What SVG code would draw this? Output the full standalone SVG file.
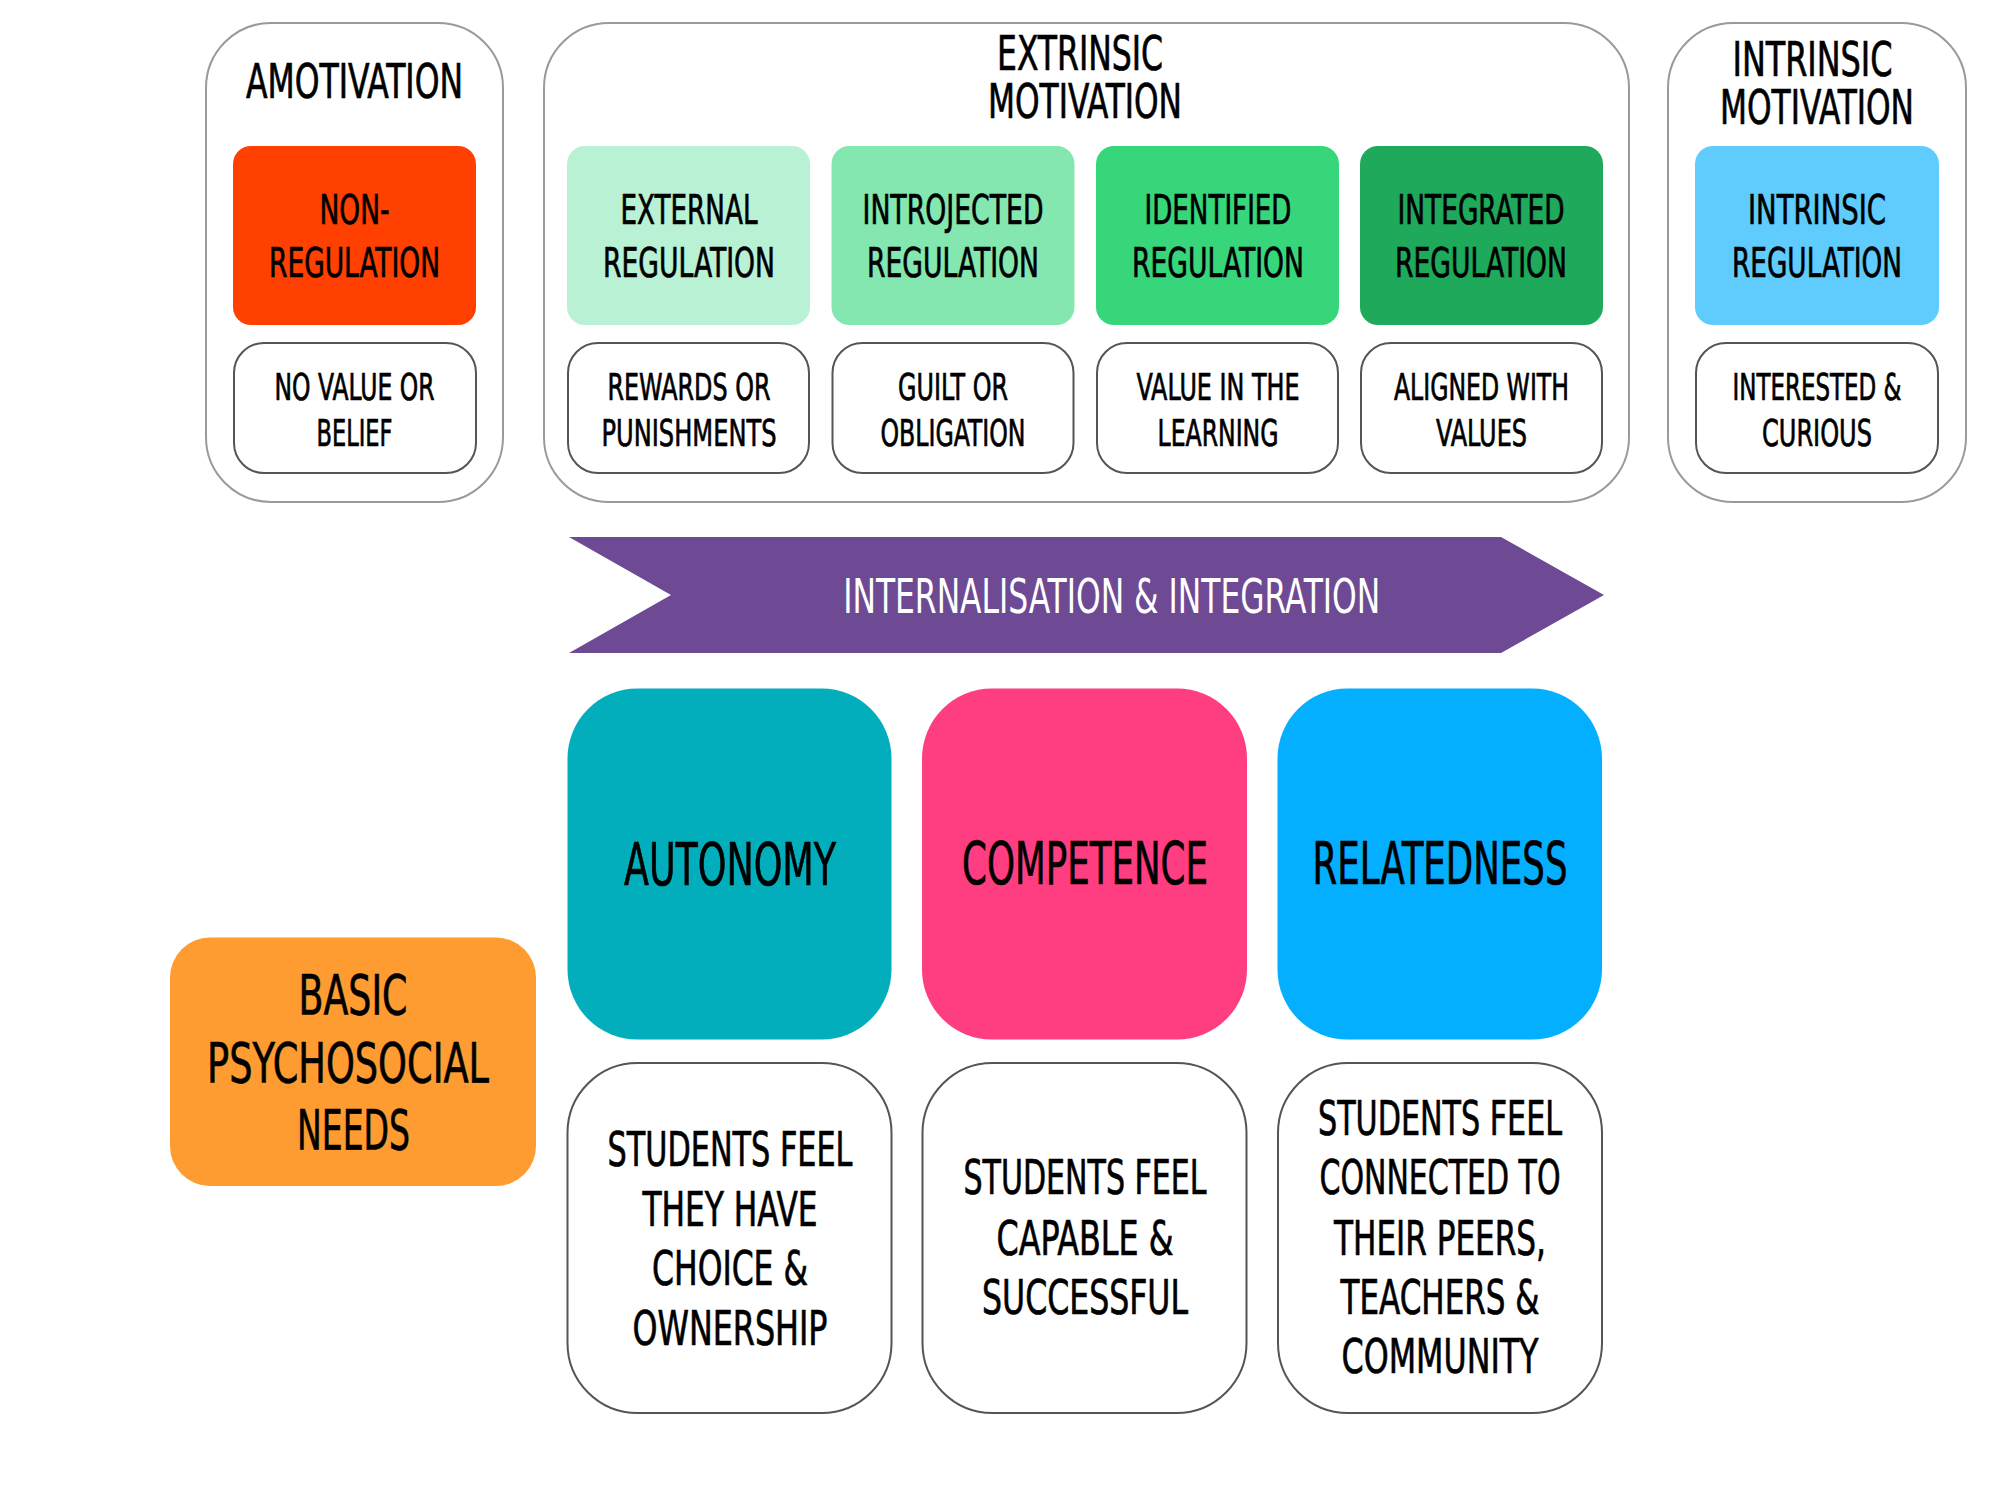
<svg xmlns="http://www.w3.org/2000/svg" width="2000" height="1500" viewBox="0 0 2000 1500">
<style>
text{font-family:"Liberation Sans Narrow","DejaVu Sans Condensed","Liberation Sans",sans-serif;fill:#000;stroke:#000;stroke-width:0.7;text-anchor:middle}
.outer{fill:#fff;stroke:#9a9a9a;stroke-width:2}
.desc{fill:#fff;stroke:#555;stroke-width:2}
.t35{font-size:48px}
.t29{font-size:40px}
.t27{font-size:37px}
.t42{font-size:58px}
.t40{font-size:55px}
.w{fill:#fff;stroke:none}
</style>
<rect width="2000" height="1500" fill="#fff"/>
<g id="amotivation">
<rect class="outer" x="206" y="23" width="297" height="479" rx="65"/>
<text class="t35" x="354.5" y="97.7" textLength="217" lengthAdjust="spacingAndGlyphs">AMOTIVATION</text>
</g>
<g id="extrinsic">
<rect class="outer" x="544" y="23" width="1085" height="479" rx="65"/>
<text class="t35" x="1080" y="70" textLength="166" lengthAdjust="spacingAndGlyphs">EXTRINSIC</text>
<text class="t35" x="1085" y="117.7" textLength="194" lengthAdjust="spacingAndGlyphs">MOTIVATION</text>
</g>
<g id="intrinsic">
<rect class="outer" x="1668" y="23" width="298" height="479" rx="65"/>
<text class="t35" x="1812.5" y="76" textLength="160" lengthAdjust="spacingAndGlyphs">INTRINSIC</text>
<text class="t35" x="1817" y="124.3" textLength="194" lengthAdjust="spacingAndGlyphs">MOTIVATION</text>
</g>
<g id="non-regulation">
<rect x="233" y="146" width="243" height="179" rx="18" fill="#ff4000"/>
<text class="t29" x="354.5" y="224" textLength="70" lengthAdjust="spacingAndGlyphs">NON-</text>
<text class="t29" x="354.5" y="276.7" textLength="171" lengthAdjust="spacingAndGlyphs">REGULATION</text>
</g>
<g id="external-regulation">
<rect x="567" y="146" width="243" height="179" rx="18" fill="#b9f1d4"/>
<text class="t29" x="689" y="224" textLength="137" lengthAdjust="spacingAndGlyphs">EXTERNAL</text>
<text class="t29" x="689" y="276.7" textLength="172" lengthAdjust="spacingAndGlyphs">REGULATION</text>
</g>
<g id="introjected-regulation">
<rect x="831.5" y="146" width="243" height="179" rx="18" fill="#84e7af"/>
<text class="t29" x="953" y="224" textLength="181" lengthAdjust="spacingAndGlyphs">INTROJECTED</text>
<text class="t29" x="953" y="276.7" textLength="172" lengthAdjust="spacingAndGlyphs">REGULATION</text>
</g>
<g id="identified-regulation">
<rect x="1096" y="146" width="243" height="179" rx="18" fill="#37d67b"/>
<text class="t29" x="1218" y="224" textLength="147" lengthAdjust="spacingAndGlyphs">IDENTIFIED</text>
<text class="t29" x="1218" y="276.7" textLength="172" lengthAdjust="spacingAndGlyphs">REGULATION</text>
</g>
<g id="integrated-regulation">
<rect x="1360" y="146" width="243" height="179" rx="18" fill="#1fa95a"/>
<text class="t29" x="1481" y="224" textLength="167" lengthAdjust="spacingAndGlyphs">INTEGRATED</text>
<text class="t29" x="1481" y="276.7" textLength="172" lengthAdjust="spacingAndGlyphs">REGULATION</text>
</g>
<g id="intrinsic-regulation">
<rect x="1695" y="146" width="244" height="179" rx="18" fill="#5fccfd"/>
<text class="t29" x="1817" y="224" textLength="138" lengthAdjust="spacingAndGlyphs">INTRINSIC</text>
<text class="t29" x="1817" y="276.7" textLength="170" lengthAdjust="spacingAndGlyphs">REGULATION</text>
</g>
<g id="no-value">
<rect class="desc" x="234" y="343" width="242" height="130" rx="30"/>
<text class="t27" x="354.5" y="400" textLength="160" lengthAdjust="spacingAndGlyphs">NO VALUE OR</text>
<text class="t27" x="354.5" y="446" textLength="76" lengthAdjust="spacingAndGlyphs">BELIEF</text>
</g>
<g id="rewards">
<rect class="desc" x="568" y="343" width="241" height="130" rx="30"/>
<text class="t27" x="689" y="400" textLength="163" lengthAdjust="spacingAndGlyphs">REWARDS OR</text>
<text class="t27" x="689" y="446" textLength="175" lengthAdjust="spacingAndGlyphs">PUNISHMENTS</text>
</g>
<g id="guilt">
<rect class="desc" x="832.5" y="343" width="241" height="130" rx="30"/>
<text class="t27" x="953" y="400" textLength="110" lengthAdjust="spacingAndGlyphs">GUILT OR</text>
<text class="t27" x="953" y="446" textLength="145" lengthAdjust="spacingAndGlyphs">OBLIGATION</text>
</g>
<g id="value-learning">
<rect class="desc" x="1097" y="343" width="241" height="130" rx="30"/>
<text class="t27" x="1218" y="400" textLength="163" lengthAdjust="spacingAndGlyphs">VALUE IN THE</text>
<text class="t27" x="1218" y="446" textLength="121" lengthAdjust="spacingAndGlyphs">LEARNING</text>
</g>
<g id="aligned">
<rect class="desc" x="1361" y="343" width="241" height="130" rx="30"/>
<text class="t27" x="1481.5" y="400" textLength="175" lengthAdjust="spacingAndGlyphs">ALIGNED WITH</text>
<text class="t27" x="1481.5" y="446" textLength="91" lengthAdjust="spacingAndGlyphs">VALUES</text>
</g>
<g id="interested">
<rect class="desc" x="1696" y="343" width="242" height="130" rx="30"/>
<text class="t27" x="1817" y="400" textLength="169" lengthAdjust="spacingAndGlyphs">INTERESTED &amp;</text>
<text class="t27" x="1817" y="446" textLength="110" lengthAdjust="spacingAndGlyphs">CURIOUS</text>
</g>
<g id="internalisation">
<polygon points="569,537 1501,537 1604,595 1501,653 569,653 671,595" fill="#6e4a95"/>
<text class="t35 w" x="1111.7" y="612.7" textLength="537" lengthAdjust="spacingAndGlyphs">INTERNALISATION &amp; INTEGRATION</text>
</g>
<g id="basic-needs">
<rect x="170" y="937.5" width="366" height="248.5" rx="40" fill="#fe9c31"/>
<text class="t40" x="353" y="1013.5" textLength="109" lengthAdjust="spacingAndGlyphs">BASIC</text>
<text class="t40" x="348" y="1082" textLength="282" lengthAdjust="spacingAndGlyphs">PSYCHOSOCIAL</text>
<text class="t40" x="353.5" y="1149" textLength="113" lengthAdjust="spacingAndGlyphs">NEEDS</text>
</g>
<g id="autonomy">
<rect x="567.5" y="688.5" width="324" height="351" rx="70" fill="#02aebc"/>
<text class="t42" x="730" y="885" textLength="212" lengthAdjust="spacingAndGlyphs">AUTONOMY</text>
</g>
<g id="competence">
<rect x="922" y="688.5" width="325" height="351" rx="70" fill="#fe3e80"/>
<text class="t42" x="1085" y="884" textLength="246" lengthAdjust="spacingAndGlyphs">COMPETENCE</text>
</g>
<g id="relatedness">
<rect x="1277.5" y="688.5" width="324.5" height="351" rx="70" fill="#03affe"/>
<text class="t42" x="1440" y="884" textLength="255" lengthAdjust="spacingAndGlyphs">RELATEDNESS</text>
</g>
<g id="autonomy-desc">
<rect class="desc" x="567.5" y="1063" width="324" height="350" rx="70"/>
<text class="t35" x="730" y="1165.8" textLength="245" lengthAdjust="spacingAndGlyphs">STUDENTS FEEL</text>
<text class="t35" x="730" y="1225.7" textLength="175" lengthAdjust="spacingAndGlyphs">THEY HAVE</text>
<text class="t35" x="730" y="1285" textLength="156" lengthAdjust="spacingAndGlyphs">CHOICE &amp;</text>
<text class="t35" x="730" y="1345" textLength="195" lengthAdjust="spacingAndGlyphs">OWNERSHIP</text>
</g>
<g id="competence-desc">
<rect class="desc" x="922.5" y="1063" width="324" height="350" rx="70"/>
<text class="t35" x="1085" y="1194" textLength="243" lengthAdjust="spacingAndGlyphs">STUDENTS FEEL</text>
<text class="t35" x="1085" y="1254.5" textLength="177" lengthAdjust="spacingAndGlyphs">CAPABLE &amp;</text>
<text class="t35" x="1085" y="1314.4" textLength="206" lengthAdjust="spacingAndGlyphs">SUCCESSFUL</text>
</g>
<g id="relatedness-desc">
<rect class="desc" x="1278" y="1063" width="324" height="350" rx="70"/>
<text class="t35" x="1440" y="1135" textLength="244" lengthAdjust="spacingAndGlyphs">STUDENTS FEEL</text>
<text class="t35" x="1440" y="1194" textLength="241" lengthAdjust="spacingAndGlyphs">CONNECTED TO</text>
<text class="t35" x="1440" y="1254.5" textLength="212" lengthAdjust="spacingAndGlyphs">THEIR PEERS,</text>
<text class="t35" x="1440" y="1313.5" textLength="199" lengthAdjust="spacingAndGlyphs">TEACHERS &amp;</text>
<text class="t35" x="1440" y="1373.4" textLength="197" lengthAdjust="spacingAndGlyphs">COMMUNITY</text>
</g>
<g id="connectors"></g>
</svg>
